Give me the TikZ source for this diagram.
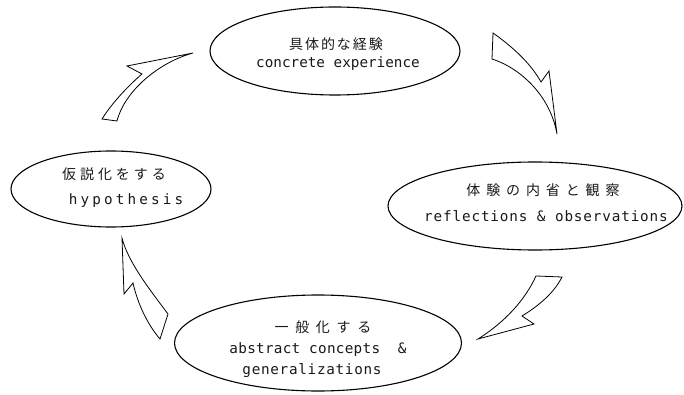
\documentclass[tikz,border=0pt]{standalone}
\usepackage{fontspec}
\usetikzlibrary{shapes.geometric}
\newfontfamily\jpfont{Noto Sans CJK JP}
\newfontfamily\enfont{DejaVu Sans Mono}
\newcommand{\jp}[2]{{\jpfont\fontsize{14}{16}\selectfont\addfontfeatures{LetterSpace=#1}#2}}
\newcommand{\en}[2]{{\enfont\fontsize{14.3}{17}\selectfont\addfontfeatures{LetterSpace=#1}#2}}
\begin{document}
\begin{tikzpicture}[x=1pt,y=-1pt,
  stage/.style={draw=black,line width=1.1pt,ellipse,inner sep=0pt},
  txt/.style={inner sep=0pt,text=black!90},
  bolt/.style={draw=black,line width=0.8pt,line join=miter,fill=white}]
\useasboundingbox (0,0) rectangle (684,395);
% stages
\node[stage,minimum width=250pt,minimum height=88pt] (e1) at (335,51) {};
\node[stage,minimum width=294pt,minimum height=88pt] (e2) at (535,206) {};
\node[stage,minimum width=200pt,minimum height=76pt] (e4) at (111,189) {};
\node[stage,minimum width=287pt,minimum height=96pt] (e3) at (318,343) {};
% texts
\node[txt] (t1a) at (336,44) {\jp{14}{具体的な経験}};
\node[txt] (t1b) at (338,64) {\en{0}{concrete experience}};
\node[txt] (t2a) at (543,190) {\jp{42}{体験の内省と観察}};
\node[txt] (t2b) at (546,216) {\en{6}{reflections \& observations}};
\node[txt] (t4a) at (114,174) {\jp{28}{仮説化をする}};
\node[txt] (t4b) at (126,201) {\en{22}{hypothesis}};
\node[txt] (t3a) at (323,327) {\jp{48}{一般化する}};
\node[txt] (t3b) at (318,350) {\en{2}{abstract concepts\ \ \&}};
\node[txt] (t3c) at (312,371) {\en{5}{generalizations}};
% arrows
\draw[bolt] (493,33) .. controls (510,45) and (530,62) .. (541,82) -- (549,71) -- (557,134)
  .. controls (550,95) and (520,68) .. (492,59) -- cycle;
\draw[bolt] (536,276) -- (562,277) .. controls (553,295) and (535,308) .. (522,316) -- (534,324) -- (478,339)
  .. controls (505,322) and (525,300) .. (536,276) -- cycle;
\draw[bolt] (122,238) -- (124,294) -- (133,283) .. controls (138,305) and (148,325) .. (160,339) -- (168,314)
  .. controls (150,290) and (128,262) .. (122,238) -- cycle;
\draw[bolt] (193,53) -- (127,66) -- (142,74) .. controls (128,86) and (112,103) .. (102,119) -- (117,121)
  .. controls (125,90) and (160,62) .. (193,53) -- cycle;
\end{tikzpicture}
\end{document}
